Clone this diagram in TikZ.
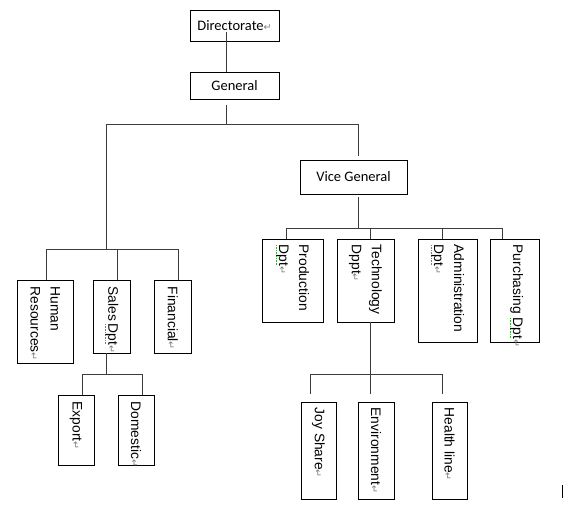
\documentclass[tikz,border=0pt]{standalone}
\usepackage{fontspec}
\setmainfont{Carlito}
\newfontfamily\arialf{Liberation Sans}
\newfontfamily\dejavuf{DejaVu Sans}
\definecolor{retgray}{RGB}{125,125,125}
\definecolor{sqgreen}{RGB}{70,165,70}
\definecolor{linegray}{RGB}{60,60,60}
\newcommand\retmark{{\dejavuf\fontsize{9.5}{9.5}\selectfont\color{retgray}↵}}
\newcommand\squig[1]{\setbox0\hbox{#1}\rlap{\color{sqgreen}\raisebox{-3pt}{\hbox to \wd0{\leaders\hbox to 1.6pt{\hss\rule{0.8pt}{0.8pt}\hss}\hfill}}}#1}
\begin{document}
\begin{tikzpicture}[x=1pt,y=-1pt,
  box/.style={draw=black,line width=0.9pt,inner sep=0pt,fill=white},
  conn/.style={draw=linegray,line width=0.9pt},
  htext/.style={font=\fontsize{14.5}{17}\selectfont},
  vtext/.style={rotate=-90,anchor=west,align=left,inner sep=0pt,font=\arialf\fontsize{13.8}{20}\selectfont}]
\useasboundingbox[fill=white] (0,0) rectangle (563,517);

% top boxes
\node[box,htext,minimum width=89pt,minimum height=31pt] (dir) at (234.5,25.5) {Directorate\retmark};
\node[box,htext,minimum width=89pt,minimum height=26.5pt] (gen) at (234.5,85.75) {General};
\node[box,htext,minimum width=107pt,minimum height=34pt] (vg) at (353.5,177) {Vice General};

% left group boxes
\node[box,minimum width=55.5pt,minimum height=83pt] (hr) at (45.25,321.5) {};
\node[box,minimum width=36.5pt,minimum height=73pt] (sales) at (111.75,316.5) {};
\node[box,minimum width=36.5pt,minimum height=73pt] (fin) at (172.75,316.5) {};
\node[box,minimum width=36pt,minimum height=70pt] (exp) at (76,430) {};
\node[box,minimum width=36pt,minimum height=70pt] (dom) at (136,430) {};

% right group boxes
\node[box,minimum width=61pt,minimum height=83pt] (prod) at (292.5,280.5) {};
\node[box,minimum width=57pt,minimum height=83pt] (tech) at (365.5,280.5) {};
\node[box,minimum width=59pt,minimum height=103pt] (adm) at (447.5,290.5) {};
\node[box,minimum width=49pt,minimum height=103pt] (pur) at (514.5,290.5) {};
\node[box,minimum width=35pt,minimum height=97pt] (joy) at (318.5,450.5) {};
\node[box,minimum width=36pt,minimum height=97pt] (env) at (376,450.5) {};
\node[box,minimum width=35pt,minimum height=97pt] (hl) at (449.5,450.5) {};

% rotated texts
\node[vtext] (hrT) at ([yshift=-7pt]hr.north) {Human\\Resources\retmark};
\node[vtext] (salesT) at ([yshift=-7pt]sales.north) {Sales\,\squig{Dpt}\retmark};
\node[vtext] (finT) at ([yshift=-7pt]fin.north) {Financial\retmark};
\node[vtext] (expT) at ([yshift=-7pt]exp.north) {Export\retmark};
\node[vtext] (domT) at ([yshift=-7pt]dom.north) {Domestic\retmark};
\node[vtext] (prodT) at ([yshift=-6pt]prod.north) {Production\\\squig{Dpt}\retmark};
\node[vtext] (techT) at ([yshift=-6pt]tech.north) {Technology\\Dppt\retmark};
\node[vtext] (admT) at ([yshift=-6pt]adm.north) {Administration\\\squig{Dpt}\retmark};
\node[vtext] (purT) at ([xshift=2pt,yshift=-6pt]pur.north) {Purchasing \squig{Dpt}\retmark};
\node[vtext] (joyT) at ([yshift=-6pt]joy.north) {Joy Share\retmark};
\node[vtext] (envT) at ([yshift=-6pt]env.north) {Environment\retmark};
\node[vtext] (hlT) at ([yshift=-6pt]hl.north) {Health line\retmark};

% junction coordinates
\coordinate (gL) at (106,124);
\coordinate (gR) at (358,124);
\coordinate (gM) at (226,124);
\coordinate (lM) at (106,249);
\coordinate (lA) at (46,249);
\coordinate (lB) at (117.5,249);
\coordinate (lC) at (178,249);
\coordinate (sM) at (106,374);
\coordinate (sA) at (82,374);
\coordinate (sB) at (142,374);
\coordinate (rM) at (358,228);
\coordinate (rA) at (286,228);
\coordinate (rB) at (370,228);
\coordinate (rC) at (442,228);
\coordinate (rD) at (502,228);
\coordinate (tM) at (370,374);
\coordinate (tA) at (310,374);
\coordinate (tB) at (442,374);

% connectors
\draw[conn] ([xshift=-8.5pt,yshift=9pt]dir.south) -- ([xshift=-8.5pt]gen.north);
\draw[conn] ([xshift=-8.5pt,yshift=-5.5pt]gen.south) -- (gM);
\draw[conn] (lM) -- (gL) -- (gR) -- ([yshift=4pt]gR |- vg.north);
% left group
\draw[conn] (lA) -- (lC);
\draw[conn] (lA) -- (lA |- hr.north);
\draw[conn] (lB) -- (lB |- sales.north);
\draw[conn] (lC) -- (lC |- fin.north);
\draw[conn] (sales.south -| sM) -- (sM);
\draw[conn] (sA) -- (sB);
\draw[conn] (sA) -- (sA |- exp.north);
\draw[conn] (sB) -- (sB |- dom.north);
% right group
\draw[conn] ([yshift=-3pt]vg.south -| rM) -- (rM);
\draw[conn] (rA) -- (rD);
\draw[conn] (rA) -- (rA |- prod.north);
\draw[conn] (rB) -- (rB |- tech.north);
\draw[conn] (rC) -- (rC |- adm.north);
\draw[conn] (rD) -- (rD |- pur.north);
\draw[conn] (tech.south -| tM) -- (tM);
\draw[conn] (tA) -- (tB);
\draw[conn] (tA) -- ([yshift=8pt]tA |- joy.north);
\draw[conn] (tM) -- ([yshift=8pt]tM |- env.north);
\draw[conn] (tB) -- ([yshift=8pt]tB |- hl.north);

% text cursor mark
\coordinate (cur) at (562,485);
\draw[line width=1pt,black] (cur) -- ++(0,13);
\end{tikzpicture}
\end{document}
